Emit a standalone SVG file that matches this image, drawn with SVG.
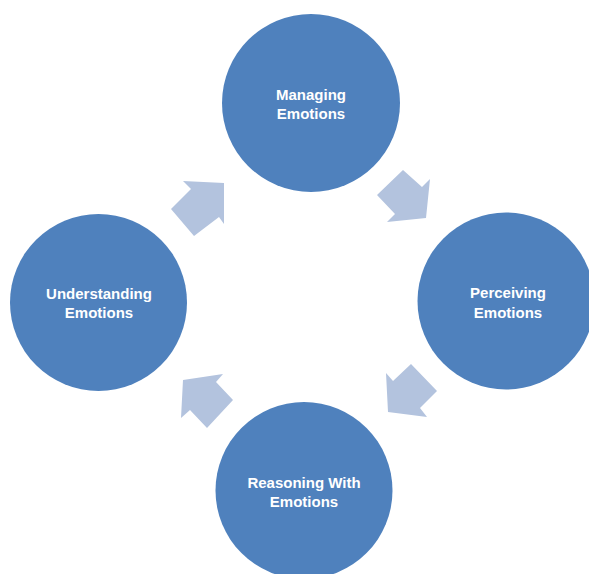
<svg xmlns="http://www.w3.org/2000/svg" width="589" height="574" viewBox="0 0 589 574">
<style>
.node{fill:#4f81bd}
.arrow{fill:#b3c3de}
.label{font-family:"Liberation Sans",Arial,sans-serif;font-weight:bold;font-size:15px;fill:#ffffff;text-anchor:middle}
</style>
<rect width="589" height="574" fill="#ffffff"/>
<g id="connectors">
<polygon class="arrow" points="183,181 224,183 224,224 219,217 194,236 171,209 191,189"/>
<polygon class="arrow" points="403,170 422,187 430,179 426,218 387,222 395,214 377,195"/>
<polygon class="arrow" points="386,373 393,381 411,364 437,391 420,408 427,417 388,412"/>
<polygon class="arrow" points="183,380 223,374 216,382 233,400 207,428 190,410 181,418"/>
</g>
<g id="managing">
<circle class="node" cx="311" cy="103" r="89"/>
<text class="label" x="311" y="100">Managing</text>
<text class="label" x="311" y="119">Emotions</text>
</g>
<g id="perceiving">
<circle class="node" cx="506" cy="301" r="88.5"/>
<text class="label" x="508" y="298">Perceiving</text>
<text class="label" x="508" y="318">Emotions</text>
</g>
<g id="reasoning">
<circle class="node" cx="304" cy="490.5" r="88.5"/>
<text class="label" x="304" y="488">Reasoning With</text>
<text class="label" x="304" y="507">Emotions</text>
</g>
<g id="understanding">
<circle class="node" cx="98.5" cy="302.5" r="88.5"/>
<text class="label" x="99" y="299">Understanding</text>
<text class="label" x="99" y="318">Emotions</text>
</g>
</svg>
